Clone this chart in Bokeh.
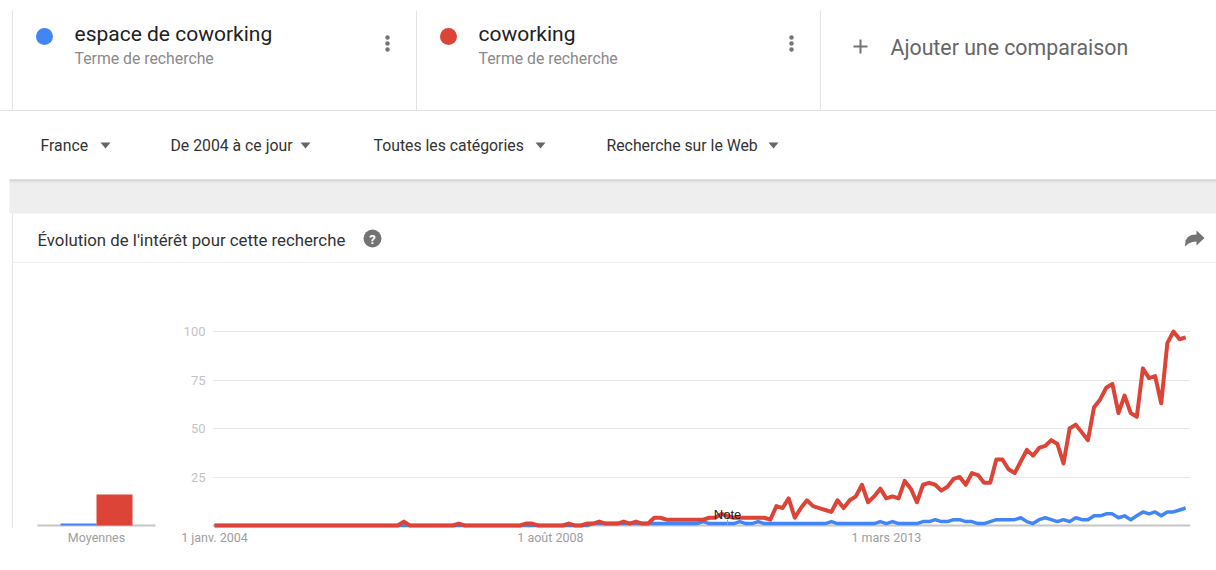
from bokeh.plotting import figure
from bokeh.models import Range1d, FixedTicker, Span
from bokeh.layouts import column, row
from bokeh.embed import file_html
from bokeh.resources import INLINE
from bokeh.core.properties import value

# ---------------- data ----------------
terms = ["espace de coworking", "coworking"]
term_colors = ["#4285F4", "#DB4437"]
term_subtitle = "Terme de recherche"
add_label = "Ajouter une comparaison"
filters = ["France", "De 2004 à ce jour", "Toutes les catégories", "Recherche sur le Web"]
card_title = "Évolution de l'intérêt pour cette recherche"

# monthly, Jan 2004 .. Apr 2017 (index 0 = janv. 2004)
months = list(range(160))
coworking = [
    0, 0, 0, 0, 0, 0, 0, 0, 0, 0, 0, 0,
    0, 0, 0, 0, 0, 0, 0, 0, 0, 0, 0, 0,
    0, 0, 0, 0, 0, 0, 0, 2, 0, 0, 0, 0,
    0, 0, 0, 0, 1, 0, 0, 0, 0, 0, 0, 0,
    0, 0, 0, 1, 1, 0, 0, 0, 0, 0, 1, 0,
    0, 1, 1, 2, 1, 1, 1, 2, 1, 2, 1, 1,
    4, 4, 3, 3, 3, 3, 3, 3, 3, 4, 4, 6,
    5, 4, 4, 4, 4, 4, 4, 3, 10, 9, 14, 4,
    9, 13, 10, 9, 8, 7, 13, 9, 13, 15, 21, 12,
    15, 19, 14, 15, 14, 23, 19, 12, 21, 22, 21, 18,
    20, 24, 25, 21, 27, 26, 22, 22, 34, 34, 29, 27,
    33, 39, 36, 40, 41, 44, 42, 32, 50, 52, 48, 44,
    61, 65, 71, 73, 58, 67, 58, 56, 81, 76, 77, 63,
    94, 100, 96, 97,
]
espace = [
    0, 0, 0, 0, 0, 0, 0, 0, 0, 0, 0, 0,
    0, 0, 0, 0, 0, 0, 0, 0, 0, 0, 0, 0,
    0, 0, 0, 0, 0, 0, 0, 0, 0, 0, 0, 0,
    0, 0, 0, 0, 0, 0, 0, 0, 0, 0, 0, 0,
    0, 0, 0, 0, 0, 0, 0, 0, 0, 0, 0, 0,
    0, 0, 1, 1, 1, 1, 1, 1, 1, 1, 1, 1,
    1, 1, 1, 1, 1, 1, 1, 1, 2, 1, 1, 1,
    1, 1, 2, 1, 1, 2, 1, 1, 1, 1, 1, 1,
    1, 1, 1, 1, 1, 2, 1, 1, 1, 1, 1, 1,
    1, 2, 1, 2, 1, 1, 1, 1, 2, 2, 3, 2,
    2, 3, 3, 2, 2, 1, 1, 2, 3, 3, 3, 3,
    4, 2, 1, 3, 4, 3, 2, 3, 2, 4, 3, 3,
    5, 5, 6, 6, 4, 5, 3, 5, 7, 6, 7, 5,
    7, 7, 8, 9,
]
averages = [1, 16]
avg_label = "Moyennes"
x_ticks = [0, 55, 110]
x_tick_labels = ["1 janv. 2004", "1 août 2008", "1 mars 2013"]
y_ticks = [25, 50, 75, 100]
note_month = 84
note_text = "Note"

# ---------------- layout constants ----------------
W = 1216
H_TOP = 263
H_BOT = 570 - H_TOP
PX_PER_UNIT = 1.94
PX_PER_MONTH = 6.108
B_TOP, B_BOT = 0, 42           # frame borders of the chart row
FRAME_TOP = H_TOP + B_TOP       # page y of frame top
FRAME_BOT = 570 - B_BOT         # page y of frame bottom
BASE_Y = 525                    # page y of value 0
BORDER = "#e3e3e3"
UI_FONT = value("Roboto")


def base_fig(w, h, xr, yr, **kw):
    return figure(width=w, height=h, x_range=xr, y_range=yr, output_backend="svg",
                  toolbar_location=None, outline_line_color=None,
                  background_fill_color="white", border_fill_color="white", **kw)


def txt(p, x, y, s, size, color, align="left", font=UI_FONT, style="normal", **kw):
    p.text(x=[x], y=[y], text=[s], text_font=font, text_font_size=size,
           text_color=color, text_align=align, text_baseline="middle",
           text_font_style=style, **kw)


def style_axis(ax, size, color, standoff):
    ax.axis_line_color = None
    ax.major_tick_line_color = None
    ax.minor_tick_line_color = None
    ax.major_tick_out = 0
    ax.major_tick_in = 0
    ax.major_label_text_font = "Roboto"
    ax.major_label_text_font_size = size
    ax.major_label_text_color = color
    ax.major_label_standoff = standoff


# ---------------- header figure (page chrome, page pixel coords) ----------------
top = base_fig(W, H_TOP, Range1d(0, W), Range1d(H_TOP, 0), min_border=0,
               x_axis_type=None, y_axis_type=None)

for bx in (12, 416, 820):
    top.segment(x0=[bx], y0=[10], x1=[bx], y1=[110], line_color=BORDER, line_width=1)
top.segment(x0=[0], y0=[110], x1=[W], y1=[110], line_color=BORDER, line_width=1)

card_x = [44, 448]
for i, t in enumerate(terms):
    cx = card_x[i]
    top.scatter(x=[cx], y=[36], size=17, marker="circle",
                fill_color=term_colors[i], line_color=None)
    txt(top, cx + 30, 33, t, "21px", "#212121")
    txt(top, cx + 30, 58, term_subtitle, "15.8px", "#8a8a8a")
    kx = cx + 343
    top.scatter(x=[kx] * 3, y=[37, 43, 49], size=4.5, marker="circle",
                fill_color="#757575", line_color=None)

top.segment(x0=[853], y0=[46], x1=[867], y1=[46], line_color="#757575", line_width=2)
top.segment(x0=[860], y0=[39], x1=[860], y1=[53], line_color="#757575", line_width=2)
txt(top, 890, 47, add_label, "21.3px", "#666666")

filter_x = [40, 170, 373, 606]
caret_x = [105, 305, 540, 773]
for f, fx, tx in zip(filters, filter_x, caret_x):
    txt(top, fx, 145, f, "15.8px", "#333333")
    top.patch(x=[tx - 5, tx + 5, tx], y=[142, 142, 148], fill_color="#666666", line_color=None)

top.quad(left=9, right=W, top=179, bottom=213, fill_color="#eeeeee", line_color=None)
for k, c in enumerate(["#c6c6c6", "#d6d6d6", "#e2e2e2", "#e9e9e9"]):
    top.segment(x0=[9], y0=[179.5 + k], x1=[W], y1=[179.5 + k], line_color=c, line_width=1)

top.segment(x0=[12], y0=[213], x1=[12], y1=[H_TOP], line_color=BORDER, line_width=1)
txt(top, 37, 239, card_title, "16.8px", "#333333")
top.scatter(x=[372], y=[238], size=18, marker="circle", fill_color="#737373", line_color=None)
txt(top, 372, 238.5, "?", "13px", "white", align="center", style="bold")
sx = [1204, 1196, 1196, 1191, 1187.5, 1185, 1184.5, 1188, 1192, 1196, 1196]
sy = [237.5, 230, 234, 234.5, 236.5, 240, 246, 243, 241.5, 241, 245]
top.patch(x=sx, y=sy, fill_color="#737373", line_color=None)
top.segment(x0=[12], y0=[H_TOP - 0.5], x1=[W], y1=[H_TOP - 0.5], line_color=BORDER, line_width=1)

# value range shared by both chart figures (frame from FRAME_TOP to FRAME_BOT)
y_lo = -(FRAME_BOT - BASE_Y) / PX_PER_UNIT
y_hi = (BASE_Y - FRAME_TOP) / PX_PER_UNIT

# ---------------- averages figure ----------------
AVG_W = 160
bar_px = 36
avg_x0 = -78 / bar_px
avg = base_fig(AVG_W, H_BOT, Range1d(avg_x0, avg_x0 + AVG_W / bar_px), Range1d(y_lo, y_hi),
               min_border_left=0, min_border_right=0, min_border_top=B_TOP,
               min_border_bottom=B_BOT, y_axis_type=None)
avg.xgrid.visible = False
avg.xaxis.ticker = FixedTicker(ticks=[0.5])
avg.xaxis.major_label_overrides = {0.5: avg_label}
style_axis(avg.xaxis, "12.5px", "#9e9e9e", 1)
avg.extra_x_ranges = {"px": Range1d(0, AVG_W)}
avg.extra_y_ranges = {"px": Range1d(FRAME_BOT, FRAME_TOP)}
avg.segment(x0=[12], y0=[FRAME_BOT], x1=[12], y1=[FRAME_TOP], x_range_name="px",
            y_range_name="px", line_color=BORDER, line_width=1)
avg.segment(x0=[37], y0=[0], x1=[155], y1=[0], x_range_name="px",
            line_color="#c6c6c6", line_width=2)
avg.vbar(x=[0, 1], top=averages, bottom=0, width=1, fill_color=term_colors, line_color=None)

# ---------------- main line chart ----------------
MAIN_W = W - AVG_W
B_LEFT, B_RIGHT = 212 - AVG_W, W - 1190
frame_w = MAIN_W - B_LEFT - B_RIGHT
mx0 = -2 / PX_PER_MONTH
main = base_fig(MAIN_W, H_BOT, Range1d(mx0, mx0 + frame_w / PX_PER_MONTH), Range1d(y_lo, y_hi),
                min_border_left=B_LEFT, min_border_right=B_RIGHT,
                min_border_top=B_TOP, min_border_bottom=B_BOT)

main.xaxis.ticker = FixedTicker(ticks=x_ticks)
main.xaxis.major_label_overrides = dict(zip(x_ticks, x_tick_labels))
main.yaxis.ticker = FixedTicker(ticks=y_ticks)
style_axis(main.xaxis, "12.5px", "#9e9e9e", 1)
style_axis(main.yaxis, "13px", "#c4c4c4", 7)
main.xgrid.visible = False
main.ygrid.ticker = FixedTicker(ticks=y_ticks)
main.ygrid.grid_line_color = "#e6e6e6"
main.ygrid.grid_line_width = 1

main.add_layout(Span(location=0, dimension="width", line_color="#c6c6c6", line_width=2,
                     level="underlay"))

main.line(months, espace, line_color=term_colors[0], line_width=3.5, line_join="round")
main.line(months, coworking, line_color=term_colors[1], line_width=4, line_join="round")

main.segment(x0=[note_month], y0=[0], x1=[note_month], y1=[3], line_color="#9e9e9e", line_width=1)
main.text(x=[note_month], y=[0], text=[note_text], y_offset=-11, text_align="center",
          text_baseline="middle", text_font=value("Liberation Sans"), text_font_size="13px",
          text_color="#222222")

layout = column(top, row(avg, main, spacing=0), spacing=0)

open("out.html", "w").write(file_html(layout, INLINE))
